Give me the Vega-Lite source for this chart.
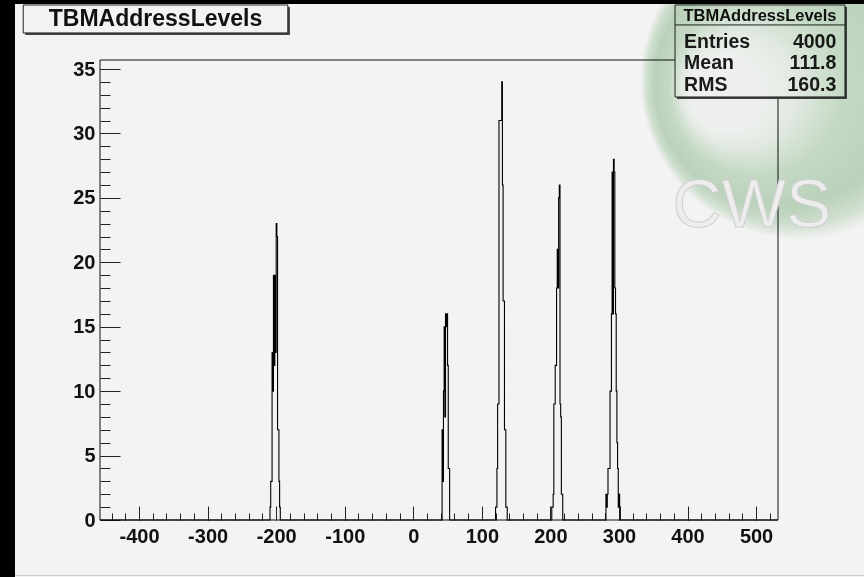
{
  "$schema": "https://vega.github.io/schema/vega-lite/v6.json",
  "width": 678,
  "height": 460,
  "autosize": {"type": "none"},
  "padding": {"left": 100, "top": 60, "right": 86, "bottom": 57},
  "background": "#f3f3f3",
  "data": {"values": [{}]},
  "config": {
    "view": {"stroke": null},
    "axis": {
      "labelFont": "Liberation Sans",
      "labelFontWeight": "bold",
      "labelFontSize": 20,
      "labelColor": "#111111",
      "tickColor": "#222222",
      "tickWidth": 1,
      "grid": false
    },
    "text": {"font": "Liberation Sans"}
  },
  "datasets": {
    "hist": [
      {"x": -457, "n": 0},
      {"x": -209, "n": 1}, {"x": -208, "n": 3}, {"x": -207, "n": 3}, {"x": -206, "n": 13},
      {"x": -205, "n": 10}, {"x": -204, "n": 19}, {"x": -203, "n": 12}, {"x": -202, "n": 19},
      {"x": -201, "n": 13}, {"x": -200, "n": 23}, {"x": -199, "n": 22}, {"x": -198, "n": 7},
      {"x": -197, "n": 7}, {"x": -196, "n": 3}, {"x": -195, "n": 1}, {"x": -194, "n": 0},
      {"x": 42, "n": 7}, {"x": 43, "n": 3}, {"x": 44, "n": 10}, {"x": 45, "n": 15},
      {"x": 46, "n": 8}, {"x": 47, "n": 16}, {"x": 48, "n": 15}, {"x": 49, "n": 16},
      {"x": 50, "n": 12}, {"x": 51, "n": 4}, {"x": 52, "n": 4}, {"x": 53, "n": 0},
      {"x": 120, "n": 1}, {"x": 121, "n": 1}, {"x": 122, "n": 4}, {"x": 123, "n": 9},
      {"x": 124, "n": 9}, {"x": 125, "n": 31}, {"x": 126, "n": 31}, {"x": 127, "n": 31},
      {"x": 128, "n": 31}, {"x": 129, "n": 34}, {"x": 130, "n": 26}, {"x": 131, "n": 17},
      {"x": 132, "n": 17}, {"x": 133, "n": 7}, {"x": 134, "n": 7}, {"x": 135, "n": 1},
      {"x": 136, "n": 1}, {"x": 137, "n": 0},
      {"x": 202, "n": 1}, {"x": 203, "n": 1}, {"x": 204, "n": 2}, {"x": 205, "n": 9},
      {"x": 206, "n": 9}, {"x": 207, "n": 12}, {"x": 208, "n": 12}, {"x": 209, "n": 18},
      {"x": 210, "n": 21}, {"x": 211, "n": 18}, {"x": 212, "n": 25}, {"x": 213, "n": 26},
      {"x": 214, "n": 9}, {"x": 215, "n": 8}, {"x": 216, "n": 2}, {"x": 217, "n": 2},
      {"x": 218, "n": 0},
      {"x": 281, "n": 2}, {"x": 282, "n": 1}, {"x": 283, "n": 2}, {"x": 284, "n": 4},
      {"x": 285, "n": 4}, {"x": 286, "n": 4}, {"x": 287, "n": 10}, {"x": 288, "n": 10},
      {"x": 289, "n": 16}, {"x": 290, "n": 27}, {"x": 291, "n": 16}, {"x": 292, "n": 28},
      {"x": 293, "n": 27}, {"x": 294, "n": 18}, {"x": 295, "n": 16}, {"x": 296, "n": 10},
      {"x": 297, "n": 6}, {"x": 298, "n": 4}, {"x": 299, "n": 1}, {"x": 300, "n": 2},
      {"x": 301, "n": 1}, {"x": 302, "n": 0},
      {"x": 532, "n": 0}
    ]
  },
  "layer": [
    {
      "description": "dark strip along the left edge of the canvas",
      "mark": {"type": "rect", "color": "#000000"},
      "encoding": {
        "x": {"datum": -700, "type": "quantitative", "scale": {"domain": [-457, 532], "nice": false, "zero": false}, "axis": null},
        "x2": {"datum": -581},
        "y": {"datum": -10, "type": "quantitative", "scale": {"domain": [0, 35.7], "nice": false, "zero": false}, "axis": null},
        "y2": {"datum": 45}
      }
    },
    {
      "description": "dark strip along the top edge of the canvas",
      "mark": {"type": "rect", "color": "#000000"},
      "encoding": {
        "x": {"datum": -700, "type": "quantitative", "scale": {"domain": [-457, 532], "nice": false, "zero": false}, "axis": null},
        "x2": {"datum": 700},
        "y": {"datum": 40.05, "type": "quantitative", "scale": {"domain": [0, 35.7], "nice": false, "zero": false}, "axis": null},
        "y2": {"datum": 45}
      }
    },
    {
      "description": "pad border at the bottom",
      "mark": {"type": "rule", "color": "#c8c8c8", "strokeWidth": 1},
      "encoding": {
        "x": {"datum": -581, "type": "quantitative", "scale": {"domain": [-457, 532], "nice": false, "zero": false}, "axis": null},
        "x2": {"datum": 700},
        "y": {"datum": -4.3, "type": "quantitative", "scale": {"domain": [0, 35.7], "nice": false, "zero": false}, "axis": null}
      }
    },
    {
      "description": "histogram outline with major ticks and labels",
      "data": {"name": "hist"},
      "mark": {"type": "line", "interpolate": "step-after", "color": "#000000", "strokeWidth": 1.1},
      "encoding": {
        "x": {
          "field": "x", "type": "quantitative",
          "scale": {"domain": [-457, 532], "nice": false, "zero": false},
          "axis": {"orient": "bottom", "title": null, "domain": false, "values": [-400, -300, -200, -100, 0, 100, 200, 300, 400, 500], "tickSize": -14, "labelPadding": 20, "labelExpr": "'' + datum.value"}
        },
        "y": {
          "field": "n", "type": "quantitative",
          "scale": {"domain": [0, 35.7], "nice": false, "zero": false},
          "axis": {"orient": "left", "title": null, "domain": false, "values": [0, 5, 10, 15, 20, 25, 30, 35], "tickSize": -20, "labelPadding": 25, "labelExpr": "'' + datum.value"}
        }
      }
    },
    {
      "description": "minor ticks",
      "data": {"name": "hist"},
      "mark": {"type": "line", "opacity": 0},
      "encoding": {
        "x": {
          "field": "x", "type": "quantitative",
          "scale": {"domain": [-457, 532], "nice": false, "zero": false},
          "axis": {"orient": "bottom", "title": null, "domain": false, "labels": false, "tickSize": -7,
            "values": [-440, -420, -400, -380, -360, -340, -320, -300, -280, -260, -240, -220, -200, -180, -160, -140, -120, -100, -80, -60, -40, -20, 0, 20, 40, 60, 80, 100, 120, 140, 160, 180, 200, 220, 240, 260, 280, 300, 320, 340, 360, 380, 400, 420, 440, 460, 480, 500, 520]}
        },
        "y": {
          "field": "n", "type": "quantitative",
          "scale": {"domain": [0, 35.7], "nice": false, "zero": false},
          "axis": {"orient": "left", "title": null, "domain": false, "labels": false, "tickSize": -10,
            "values": [0, 1, 2, 3, 4, 5, 6, 7, 8, 9, 10, 11, 12, 13, 14, 15, 16, 17, 18, 19, 20, 21, 22, 23, 24, 25, 26, 27, 28, 29, 30, 31, 32, 33, 34, 35]}
        }
      }
    },
    {
      "description": "frame around the plot area",
      "mark": {"type": "rect", "filled": false, "color": "#111111", "strokeWidth": 1},
      "encoding": {
        "x": {"datum": -457, "type": "quantitative", "scale": {"domain": [-457, 532], "nice": false, "zero": false}, "axis": null},
        "x2": {"datum": 532},
        "y": {"datum": 0, "type": "quantitative", "scale": {"domain": [0, 35.7], "nice": false, "zero": false}, "axis": null},
        "y2": {"datum": 35.7}
      }
    },
    {
      "description": "title box shadow",
      "mark": {"type": "rect", "color": "#444444"},
      "encoding": {
        "x": {"datum": -566.1, "type": "quantitative", "scale": {"domain": [-457, 532], "nice": false, "zero": false}, "axis": null},
        "x2": {"datum": -180},
        "y": {"datum": 39.81, "type": "quantitative", "scale": {"domain": [0, 35.7], "nice": false, "zero": false}, "axis": null},
        "y2": {"datum": 37.64}
      }
    },
    {
      "description": "title box",
      "mark": {"type": "rect", "fill": "#f3f3f3", "stroke": "#222222", "strokeWidth": 1},
      "encoding": {
        "x": {"datum": -569, "type": "quantitative", "scale": {"domain": [-457, 532], "nice": false, "zero": false}, "axis": null},
        "x2": {"datum": -183},
        "y": {"datum": 39.97, "type": "quantitative", "scale": {"domain": [0, 35.7], "nice": false, "zero": false}, "axis": null},
        "y2": {"datum": 37.8}
      }
    },
    {
      "mark": {"type": "text", "fontSize": 23, "fontWeight": "bold", "color": "#111111", "align": "center", "baseline": "middle"},
      "encoding": {
        "x": {"datum": -376, "type": "quantitative", "scale": {"domain": [-457, 532], "nice": false, "zero": false}, "axis": null},
        "y": {"datum": 38.88, "type": "quantitative", "scale": {"domain": [0, 35.7], "nice": false, "zero": false}, "axis": null},
        "text": {"value": "TBMAddressLevels"}
      }
    },
    {
      "description": "statistics box shadow",
      "mark": {"type": "rect", "color": "#444444"},
      "encoding": {
        "x": {"datum": 384.7, "type": "quantitative", "scale": {"domain": [-457, 532], "nice": false, "zero": false}, "axis": null},
        "x2": {"datum": 632.6},
        "y": {"datum": 39.81, "type": "quantitative", "scale": {"domain": [0, 35.7], "nice": false, "zero": false}, "axis": null},
        "y2": {"datum": 32.67}
      }
    },
    {
      "description": "statistics box",
      "mark": {"type": "rect", "fill": "#f3f3f3", "stroke": "#222222", "strokeWidth": 1},
      "encoding": {
        "x": {"datum": 381.8, "type": "quantitative", "scale": {"domain": [-457, 532], "nice": false, "zero": false}, "axis": null},
        "x2": {"datum": 629.7},
        "y": {"datum": 39.97, "type": "quantitative", "scale": {"domain": [0, 35.7], "nice": false, "zero": false}, "axis": null},
        "y2": {"datum": 32.83}
      }
    },
    {
      "mark": {"type": "rule", "color": "#222222", "strokeWidth": 1},
      "encoding": {
        "x": {"datum": 381.8, "type": "quantitative", "scale": {"domain": [-457, 532], "nice": false, "zero": false}, "axis": null},
        "x2": {"datum": 629.7},
        "y": {"datum": 38.42, "type": "quantitative", "scale": {"domain": [0, 35.7], "nice": false, "zero": false}, "axis": null}
      }
    },
    {
      "mark": {"type": "text", "fontSize": 16.5, "fontWeight": "bold", "color": "#111111", "align": "center", "baseline": "middle"},
      "encoding": {
        "x": {"datum": 505.7, "type": "quantitative", "scale": {"domain": [-457, 532], "nice": false, "zero": false}, "axis": null},
        "y": {"datum": 39.15, "type": "quantitative", "scale": {"domain": [0, 35.7], "nice": false, "zero": false}, "axis": null},
        "text": {"value": "TBMAddressLevels"}
      }
    },
    {
      "mark": {"type": "text", "fontSize": 19.5, "fontWeight": "bold", "color": "#1a1a1a", "align": "left", "baseline": "middle"},
      "encoding": {
        "x": {"datum": 395, "type": "quantitative", "scale": {"domain": [-457, 532], "nice": false, "zero": false}, "axis": null},
        "y": {"datum": 37.1, "type": "quantitative", "scale": {"domain": [0, 35.7], "nice": false, "zero": false}, "axis": null},
        "text": {"value": "Entries"}
      }
    },
    {
      "mark": {"type": "text", "fontSize": 19.5, "fontWeight": "bold", "color": "#1a1a1a", "align": "left", "baseline": "middle"},
      "encoding": {
        "x": {"datum": 395, "type": "quantitative", "scale": {"domain": [-457, 532], "nice": false, "zero": false}, "axis": null},
        "y": {"datum": 35.45, "type": "quantitative", "scale": {"domain": [0, 35.7], "nice": false, "zero": false}, "axis": null},
        "text": {"value": "Mean"}
      }
    },
    {
      "mark": {"type": "text", "fontSize": 19.5, "fontWeight": "bold", "color": "#1a1a1a", "align": "left", "baseline": "middle"},
      "encoding": {
        "x": {"datum": 395, "type": "quantitative", "scale": {"domain": [-457, 532], "nice": false, "zero": false}, "axis": null},
        "y": {"datum": 33.78, "type": "quantitative", "scale": {"domain": [0, 35.7], "nice": false, "zero": false}, "axis": null},
        "text": {"value": "RMS"}
      }
    },
    {
      "mark": {"type": "text", "fontSize": 19.5, "fontWeight": "bold", "color": "#1a1a1a", "align": "right", "baseline": "middle"},
      "encoding": {
        "x": {"datum": 617, "type": "quantitative", "scale": {"domain": [-457, 532], "nice": false, "zero": false}, "axis": null},
        "y": {"datum": 37.1, "type": "quantitative", "scale": {"domain": [0, 35.7], "nice": false, "zero": false}, "axis": null},
        "text": {"value": "4000"}
      }
    },
    {
      "mark": {"type": "text", "fontSize": 19.5, "fontWeight": "bold", "color": "#1a1a1a", "align": "right", "baseline": "middle"},
      "encoding": {
        "x": {"datum": 617, "type": "quantitative", "scale": {"domain": [-457, 532], "nice": false, "zero": false}, "axis": null},
        "y": {"datum": 35.45, "type": "quantitative", "scale": {"domain": [0, 35.7], "nice": false, "zero": false}, "axis": null},
        "text": {"value": "111.8"}
      }
    },
    {
      "mark": {"type": "text", "fontSize": 19.5, "fontWeight": "bold", "color": "#1a1a1a", "align": "right", "baseline": "middle"},
      "encoding": {
        "x": {"datum": 617, "type": "quantitative", "scale": {"domain": [-457, 532], "nice": false, "zero": false}, "axis": null},
        "y": {"datum": 33.78, "type": "quantitative", "scale": {"domain": [0, 35.7], "nice": false, "zero": false}, "axis": null},
        "text": {"value": "160.3"}
      }
    },
    {
      "description": "logo watermark: soft green disc with a pale core on its left, multiplied over the canvas",
      "mark": {"type": "point", "filled": true, "shape": "circle", "size": 101800, "blend": "multiply", "opacity": 1,
        "color": {"gradient": "radial", "x1": 0.27, "y1": 0.54, "r1": 0.12, "x2": 0.5, "y2": 0.5, "r2": 0.5,
          "stops": [
            {"offset": 0, "color": "#f9fcf9"},
            {"offset": 0.15, "color": "#eef6ee"},
            {"offset": 0.4, "color": "#cee4ce"},
            {"offset": 0.7, "color": "#c3dcc3"},
            {"offset": 0.86, "color": "#d8e9d8"},
            {"offset": 1, "color": "#ffffff"}
          ]}},
      "encoding": {
        "x": {"datum": 564, "type": "quantitative", "scale": {"domain": [-457, 532], "nice": false, "zero": false}, "axis": null},
        "y": {"datum": 34.15, "type": "quantitative", "scale": {"domain": [0, 35.7], "nice": false, "zero": false}, "axis": null}
      }
    },
    {
      "description": "logo watermark lettering",
      "mark": {"type": "text", "fontSize": 68, "font": "Liberation Sans", "fill": "#ededed", "stroke": "#cfcfcf", "strokeWidth": 1, "align": "center", "baseline": "middle"},
      "encoding": {
        "x": {"datum": 494, "type": "quantitative", "scale": {"domain": [-457, 532], "nice": false, "zero": false}, "axis": null},
        "y": {"datum": 24.3, "type": "quantitative", "scale": {"domain": [0, 35.7], "nice": false, "zero": false}, "axis": null},
        "text": {"value": "CWS"}
      }
    }
  ],
  "resolve": {"axis": {"x": "independent", "y": "independent"}}
}
